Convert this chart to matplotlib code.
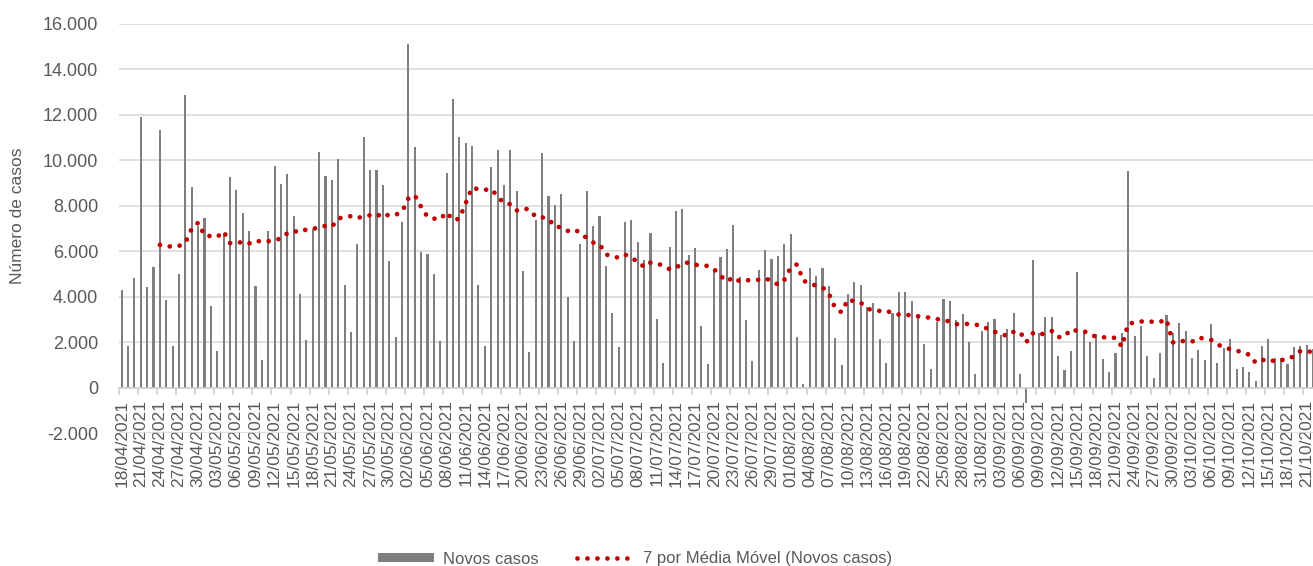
import matplotlib
matplotlib.use('Agg')
import matplotlib.pyplot as plt
import numpy as np
import pandas as pd
from matplotlib.ticker import FuncFormatter, FixedLocator

plt.rcParams['font.family'] = ['Liberation Sans', 'DejaVu Sans']

# novos casos diarios, 18/04/2021 -> 22/10/2021
novos_casos = [
    4300, 1850, 4840, 11900, 4450, 5300, 11340, 3840, 1850, 4990,
    12870, 8830, 7100, 7450, 3590, 1600, 6720, 9260, 8700, 7670,
    6880, 4490, 1220, 6880, 9760, 8950, 9390, 7560, 4120, 2100,
    6970, 10390, 9320, 9140, 10080, 4520, 2440, 6320, 11030, 9580,
    9580, 8920, 5560, 2230, 7290, 15130, 10590, 5960, 5880, 5000,
    2040, 9430, 12700, 11030, 10750, 10640, 4520, 1850, 9710, 10450,
    8920, 10450,
    8670, 5150, 1570, 7380, 10330, 8440, 8050, 8520, 4000, 2050,
    6320, 8670, 7100, 7570, 5370, 3270, 1780, 7290, 7360, 6430,
    5620, 6790, 3010, 1090, 6190, 7760, 7860, 5850, 6130, 2700, 1040,
    5150, 5740, 6120, 7140, 4890, 2980, 1190, 5180, 6060, 5650,
    5780, 6310, 6760, 2240, 150, 5270, 4910, 5270, 4470, 2170,
    1000, 4120, 4640, 4520, 3540, 3710, 2130, 1100, 3300, 4230, 4230,
    3810, 3200, 1920, 820, 2910, 3920, 3810, 2980, 3240, 2000,
    600, 2510, 2890, 3040, 2320, 2570, 3300, 590, -660, 5620,
    2420, 3100, 3100, 1390, 780, 1610, 5080, 2460, 2000, 2360,
    1250, 700,
    1510, 2390, 9550, 2270, 2710, 1410, 410, 1530, 3210, 2390,
    2830, 2510, 1290, 1660, 1230, 2820, 1070, 1730, 2130, 840,
    910, 690, 310, 1850, 2140, 1320, 1320, 1060, 1780, 1820,
    1880, 1700,
]
datas = pd.date_range('2021-04-18', periods=len(novos_casos), freq='D')
rotulos = [d.strftime('%d/%m/%Y') for d in datas]

W, H = 1313, 566
fig = plt.figure(figsize=(W / 100, H / 100), dpi=100)
ax = fig.add_axes([118.5 / W, 1 - 433.2 / H, 1 - 118.5 / W, (433.2 - 24) / H])

x = np.arange(len(novos_casos))
barras = ax.bar(x, novos_casos, width=0.33, color='#7F7F7F', zorder=2,
                label='Novos casos')

# media movel de 7 dias (linha de tendencia)
media = pd.Series(novos_casos).rolling(7).mean()
linha, = ax.plot(x, media, color='#C00000', lw=3.4,
                 linestyle=(0, (0.01, 2.1)), dash_capstyle='round', zorder=3,
                 label='7 por Média Móvel (Novos casos)')

ax.set_xlim(-0.5, 187.0)
ax.set_ylim(-2000, 16000)
ax.set_yticks(np.arange(-2000, 16001, 2000))
ax.yaxis.set_major_formatter(FuncFormatter(lambda v, p: f"{v:,.0f}".replace(',', '.')))
ax.grid(axis='y', color='#D9D9D9', lw=1.2)
ax.set_axisbelow(True)

for s in ['top', 'right', 'left']:
    ax.spines[s].set_visible(False)
ax.spines['bottom'].set_position(('data', 0))
ax.spines['bottom'].set_color('#D0D0D0')
ax.spines['bottom'].set_linewidth(1.2)

ax.set_xticks(x[::3])
ax.set_xticklabels(rotulos[::3], rotation=90)
ax.xaxis.set_minor_locator(FixedLocator(np.arange(-0.5, len(x), 3)))
ax.tick_params(axis='x', which='major', length=0, pad=9, labelsize=12.5,
               labelcolor='#595959')
ax.tick_params(axis='x', which='minor', length=5, width=1.2, color='#D0D0D0')
ax.tick_params(axis='y', length=0, pad=14.5, labelsize=13, labelcolor='#595959')

fig.text(18 / W, 1 - 216 / H, 'Número de casos', rotation=90, va='center',
         ha='center', fontsize=12.5, color='#595959')

fig.legend(handles=[barras, linha], loc='center',
           bbox_to_anchor=(635 / W, 1 - 559 / H), ncol=2, frameon=False,
           fontsize=12, handlelength=3.4, handleheight=0.45,
           handletextpad=0.55, columnspacing=2.3, labelcolor='#595959')

fig.savefig('out.png', dpi=100)
